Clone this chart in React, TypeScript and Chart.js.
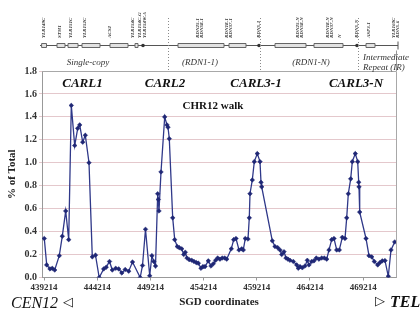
import { useEffect, useRef } from "react";
import { Chart, registerables } from "chart.js";

Chart.register(...registerables);

// SGD coordinates of each sampled point (chromosome XII)
const positions = [
  439242, 439468, 439778, 439994, 440220, 440652, 440934, 441254, 441536, 441780,
  442100, 442382, 442570, 442852, 443096, 443444, 443754, 444055, 444403, 444826,
  445061, 445371, 445634, 445954, 446236, 446527, 446847, 447176, 447533, 448257,
  448473, 448755, 449150, 449357, 449535, 449695, 449902, 449958, 450024, 450212,
  450560, 450776, 450870, 450992, 451312, 451500, 451744, 451932, 452158, 452346,
  452496, 452656, 452872, 453098, 453314, 453530, 453718, 453972, 454160, 454348,
  454658, 454912, 455128, 455350, 455538, 455754, 455970, 456200, 456388, 456820,
  457046, 457262, 457544, 457798, 457948, 458136, 458390, 458512, 458578, 458794,
  458982, 459264, 459518, 459612, 459678, 460674, 460928, 461182, 461398, 461558,
  461774, 461962, 462150, 462338, 462648, 462968, 463118, 463280, 463496, 463748,
  463966, 464124, 464378, 464594, 464810, 465064, 465318, 465562, 465788, 466004,
  466258, 466474, 466728, 466972, 467256, 467508, 467668, 467818, 468044, 468194,
  468476, 468702, 468796, 468824, 468890, 469482, 469764, 470018, 470262, 470582,
  470798, 471014, 471268, 471578, 471832, 472180,
];

// % of Total
const percentOfTotal = [
  0.34, 0.11, 0.075, 0.08, 0.065, 0.19, 0.36, 0.58, 0.33, 1.5,
  1.15, 1.3, 1.33, 1.18, 1.24, 1.0, 0.18, 0.195, 0.0, 0.075,
  0.09, 0.14, 0.065, 0.08, 0.075, 0.04, 0.07, 0.055, 0.135, 0.0,
  0.105, 0.42, 0.015, 0.19, 0.14, 0.1, 0.73, 0.68, 0.58, 0.92,
  1.4, 1.33, 1.31, 1.21, 0.52, 0.33, 0.27, 0.26, 0.25, 0.2,
  0.22, 0.17, 0.155, 0.15, 0.14, 0.13, 0.125, 0.08, 0.095, 0.095,
  0.145, 0.1, 0.12, 0.15, 0.17, 0.16, 0.17, 0.17, 0.16, 0.25,
  0.33, 0.34, 0.24, 0.25, 0.24, 0.34, 0.335, 0.52, 0.73, 0.85,
  1.01, 1.08, 1.01, 0.83, 0.79, 0.32, 0.27, 0.26, 0.24, 0.2,
  0.225, 0.17, 0.16, 0.15, 0.14, 0.11, 0.08, 0.095, 0.085, 0.1,
  0.15, 0.11, 0.14, 0.145, 0.17, 0.16, 0.17, 0.17, 0.16, 0.24,
  0.33, 0.34, 0.24, 0.24, 0.35, 0.34, 0.52, 0.73, 0.86, 1.01,
  1.08, 1.01, 0.83, 0.79, 0.57, 0.34, 0.19, 0.18, 0.14, 0.11,
  0.13, 0.145, 0.147, 0.01, 0.24, 0.31,
];

const xTickValues = [439214, 444214, 449214, 454214, 459214, 464214, 469214];
const xMin = 439026;
const xMax = 472302;

// Gene map (coordinates)
const geneStarts = [438990, 440436, 441470, 442786, 445418, 447768, 451810, 456604, 460928, 464594, 469482];
const geneEnds = [439449, 441188, 442410, 444478, 447110, 448050, 456134, 458202, 463842, 467320, 470328];
const dotPositions = [448520, 459424, 468636];
const mapLabelNames = [
  "YLR149C", "STM1", "YLR151C", "YLR152C", "ACS2", "YLR154C", "YLR154C-G", "YLR154W-A",
  "RDN25-1", "RDN58-1", "RDN18-1", "RDN37-1", "RDN5-1",
  "RDN25-N", "RDN58-N", "RDN18-N", "RDN37-N", "N", "RDN5-N", "ASP3-1", "YLR160C", "RDN5-6",
];
const mapLabelPositions = [
  439214, 440718, 441752, 443068, 445418, 447580, 448238, 448708,
  453690, 454066, 456416, 456792, 459424,
  463090, 463466, 465878, 466254, 467006, 468636, 469764, 472114, 472490,
];
const mapEnd = 472490;
const boundaryPositions = [450870, 459518, 468730];
const regionNames = ["Single-copy", "(RDN1-1)", "(RDN1-N)"];
const regionCenters = [443350, 453878, 464312];
const peakNames = ["CARL1", "CARL2", "CARL3-1", "CARL3-N"];
const peakCenters = [442833, 450588, 459142, 468542];

const SERIF = '"Liberation Serif", "DejaVu Serif", serif';

const overlayPlugin = {
  id: "overlay",
  afterDraw(chart: any) {
    const ctx: CanvasRenderingContext2D = chart.ctx;
    const xs = chart.scales.x;
    const { left, right, top, bottom } = chart.chartArea;
    const px = (v: number) => xs.getPixelForValue(v);
    ctx.save();

    // plot frame (top & right)
    ctx.strokeStyle = "#a8a8a8";
    ctx.lineWidth = 1;
    ctx.beginPath();
    ctx.moveTo(left, Math.round(top) + 0.5);
    ctx.lineTo(Math.round(right) + 0.5, Math.round(top) + 0.5);
    ctx.lineTo(Math.round(right) + 0.5, bottom);
    ctx.stroke();

    // gene map baseline
    const lineY = 45.5;
    ctx.strokeStyle = "#555";
    ctx.beginPath();
    ctx.moveTo(left - 2, lineY);
    ctx.lineTo(px(mapEnd), lineY);
    ctx.stroke();
    ctx.beginPath();
    ctx.moveTo(px(mapEnd), lineY - 4);
    ctx.lineTo(px(mapEnd), lineY + 4);
    ctx.stroke();
    ctx.strokeStyle = "#999";
    ctx.beginPath();
    ctx.moveTo(Math.round(right) + 0.5, lineY + 5);
    ctx.lineTo(Math.round(right) + 0.5, top);
    ctx.stroke();

    // gene boxes
    ctx.strokeStyle = "#666";
    ctx.fillStyle = "#e2e2e2";
    for (let i = 0; i < geneStarts.length; i++) {
      const x0 = px(geneStarts[i]);
      const x1 = px(geneEnds[i]);
      ctx.beginPath();
      ctx.rect(x0, lineY - 2, x1 - x0, 4);
      ctx.fill();
      ctx.stroke();
    }
    ctx.fillStyle = "#333";
    for (const d of dotPositions) {
      ctx.beginPath();
      ctx.arc(px(d), lineY, 1.8, 0, Math.PI * 2);
      ctx.fill();
    }

    // dotted region boundaries
    ctx.strokeStyle = "#8a8a8a";
    ctx.setLineDash([1, 2]);
    for (const b of boundaryPositions) {
      const x = Math.round(px(b)) + 0.5;
      ctx.beginPath();
      ctx.moveTo(x, 18);
      ctx.lineTo(x, top - 1);
      ctx.stroke();
    }
    ctx.setLineDash([]);

    // rotated gene labels
    ctx.fillStyle = "#333";
    ctx.font = `italic bold 5px ${SERIF}`;
    ctx.textAlign = "left";
    ctx.textBaseline = "middle";
    for (let i = 0; i < mapLabelNames.length; i++) {
      ctx.save();
      ctx.translate(px(mapLabelPositions[i]), 38);
      ctx.rotate(-Math.PI / 2);
      ctx.fillText(mapLabelNames[i], 0, 0);
      ctx.restore();
    }

    // region labels
    ctx.fillStyle = "#333";
    ctx.font = `italic 9px ${SERIF}`;
    ctx.textAlign = "center";
    ctx.textBaseline = "middle";
    for (let i = 0; i < regionNames.length; i++) {
      ctx.fillText(regionNames[i], px(regionCenters[i]), 63);
    }
    ctx.textAlign = "left";
    ctx.fillText("Intermediate", 363, 58);
    ctx.fillText("Repeat (IR)", 363, 68);

    // peak labels
    ctx.fillStyle = "#111";
    ctx.font = `italic bold 13px ${SERIF}`;
    ctx.textAlign = "center";
    for (let i = 0; i < peakNames.length; i++) {
      ctx.fillText(peakNames[i], px(peakCenters[i]), 84);
    }

    // inner title
    ctx.font = `bold 11px ${SERIF}`;
    ctx.fillText("CHR12 walk", 213, 106);

    // orientation labels
    ctx.font = `italic 16px ${SERIF}`;
    ctx.textAlign = "left";
    ctx.fillText("CEN12", 11, 304);
    ctx.font = `13px "DejaVu Sans", sans-serif`;
    ctx.fillText("◁", 63, 303);
    ctx.fillText("▷", 375, 302);
    ctx.font = `italic bold 16px ${SERIF}`;
    ctx.fillText("TEL", 390, 303);

    ctx.restore();
  },
};

export default function App() {
  const canvasRef = useRef<HTMLCanvasElement | null>(null);

  useEffect(() => {
    const canvas = canvasRef.current;
    if (!canvas) return;
    const data = positions.map((x, i) => ({ x, y: percentOfTotal[i] }));
    const chart = new Chart(canvas, {
      type: "line",
      data: {
        datasets: [
          {
            label: "CHR12 walk",
            data,
            borderColor: "#2f3889",
            borderWidth: 1.3,
            pointStyle: "rectRot",
            pointRadius: 2.3,
            pointBackgroundColor: "#1f2775",
            pointBorderColor: "#1f2775",
            pointBorderWidth: 0.5,
            tension: 0,
            fill: false,
          },
        ],
      },
      options: {
        animation: false,
        responsive: false,
        devicePixelRatio: 1,
        layout: { padding: { top: 71, right: 24, left: 0, bottom: 0 } },
        plugins: {
          legend: { display: false },
          tooltip: { enabled: false },
          title: { display: false },
        },
        scales: {
          x: {
            type: "linear",
            min: xMin,
            max: xMax,
            afterBuildTicks: (axis: any) => {
              axis.ticks = xTickValues.map((v) => ({ value: v }));
            },
            afterFit: (s: any) => {
              s.height = 37.5;
            },
            grid: {
              display: true,
              drawOnChartArea: false,
              drawTicks: true,
              tickLength: 3,
              color: "#999",
            },
            border: { display: true, color: "#999" },
            ticks: {
              autoSkip: false,
              maxRotation: 0,
              padding: 2,
              color: "#333",
              font: { family: SERIF, size: 9, weight: "bold" },
              callback: (v: any) => String(v),
            },
            title: {
              display: true,
              text: "SGD coordinates",
              color: "#222",
              font: { family: SERIF, size: 11, weight: "bold" },
              padding: { top: 0, bottom: 6.4 },
            },
          },
          y: {
            min: 0,
            max: 1.8,
            afterFit: (s: any) => {
              s.width = 42;
            },
            grid: {
              color: "#e4c8cc",
              drawTicks: true,
              tickLength: 3,
            },
            border: { display: true, color: "#999" },
            ticks: {
              stepSize: 0.2,
              padding: 2,
              color: "#333",
              font: { family: SERIF, size: 10, weight: "bold" },
              callback: (v: any) => Number(v).toFixed(1),
            },
            title: {
              display: true,
              text: "% of Total",
              color: "#222",
              font: { family: SERIF, size: 11, weight: "bold" },
              padding: { top: 6, bottom: 0 },
            },
          },
        },
      },
      plugins: [overlayPlugin],
    });
    return () => chart.destroy();
  }, []);

  return (
    <div style={{ position: "fixed", left: 0, top: 0, width: 420, height: 315, background: "#fff" }}>
      <canvas ref={canvasRef} width={420} height={315} style={{ width: 420, height: 315, display: "block" }} />
    </div>
  );
}
